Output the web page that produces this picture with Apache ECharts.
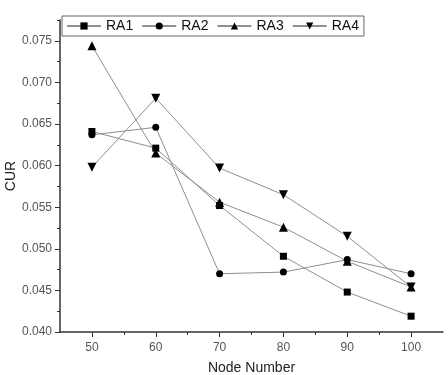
<!DOCTYPE html>
<html>
<head>
<meta charset="utf-8">
<script src="https://cdn.jsdelivr.net/npm/echarts@6/dist/echarts.min.js"></script>
<style>
  html, body { margin: 0; padding: 0; background: #fff; }
  #chart { width: 448px; height: 375px; }
</style>
</head>
<body>
<div id="chart"></div>
<script>
const nodes = [50, 60, 70, 80, 90, 100];
const ra1 = [0.0641, 0.0621, 0.0552, 0.0491, 0.0448, 0.0419];
const ra2 = [0.0637, 0.0646, 0.0470, 0.0472, 0.0487, 0.0470];
const ra3 = [0.0744, 0.0615, 0.0556, 0.0526, 0.0485, 0.0454];
const ra4 = [0.0598, 0.0681, 0.0597, 0.0565, 0.0515, 0.0454];
const xLabels = [50, 60, 70, 80, 90, 100];
const xMinor = [55, 65, 75, 85, 95];
const yLabels = [0.040, 0.045, 0.050, 0.055, 0.060, 0.065, 0.070, 0.075];
const yMinor = [0.0425, 0.0475, 0.0525, 0.0575, 0.0625, 0.0675, 0.0725, 0.0775];

const pair = arr => nodes.map((n, i) => [n, arr[i]]);
const font = "'Liberation Sans', Arial, sans-serif";

function makeSeries(name, data, symbol, size, rotate) {
  return {
    name,
    type: "line",
    data: pair(data),
    symbol,
    symbolSize: size,
    symbolRotate: rotate || 0,
    showAllSymbol: true,
    animation: false,
    lineStyle: { width: 1, color: "#8f8f8f" },
    itemStyle: { color: "#000" }
  };
}

const myChart = echarts.init(document.getElementById("chart"));
myChart.setOption({
  backgroundColor: "#fff",
  grid: { left: 60, right: 5, top: 20, bottom: 43, containLabel: false, outerBoundsMode: "none" },
  legend: {
    left: 62,
    top: 16,
    padding: [3, 5, 3, 4],
    itemGap: 8,
    itemWidth: 34,
    itemHeight: 9,
    borderColor: "#666",
    borderWidth: 1,
    backgroundColor: "#fff",
    textStyle: { fontFamily: font, fontSize: 14, color: "#111", padding: [0, 0, 0, 0] },
    data: ["RA1", "RA2", "RA3", "RA4"]
  },
  xAxis: [
    {
      type: "value",
      min: 45,
      max: 105,
      interval: 5,
      name: "Node Number",
      nameLocation: "middle",
      nameGap: 29,
      nameMoveOverlap: false,
      nameTextStyle: { fontFamily: font, fontSize: 14, color: "#222" },
      axisLine: { lineStyle: { color: "#333", width: 1.5 } },
      axisTick: { customValues: xLabels, length: 5, lineStyle: { color: "#333" } },
      axisLabel: {
        customValues: xLabels,
        fontFamily: font,
        fontSize: 12,
        color: "#555",
        margin: 10
      },
      splitLine: { show: false }
    },
    {
      type: "value",
      min: 45,
      max: 105,
      interval: 5,
      position: "bottom",
      axisLine: { show: false },
      axisTick: { customValues: xMinor, length: 3, lineStyle: { color: "#333" } },
      axisLabel: { show: false },
      splitLine: { show: false }
    }
  ],
  yAxis: [
    {
      type: "value",
      min: 0.04,
      max: 0.0775,
      interval: 0.005,
      name: "CUR",
      nameLocation: "middle",
      nameGap: 42,
      nameMoveOverlap: false,
      nameRotate: 90,
      nameTextStyle: { fontFamily: font, fontSize: 14, color: "#222" },
      axisLine: { show: true, lineStyle: { color: "#333", width: 1.5 } },
      axisTick: { show: true, customValues: yLabels, length: 5, lineStyle: { color: "#333" } },
      axisLabel: {
        customValues: yLabels,
        formatter: v => v.toFixed(3),
        fontFamily: font,
        fontSize: 12,
        color: "#555",
        margin: 8
      },
      splitLine: { show: false }
    },
    {
      type: "value",
      min: 0.04,
      max: 0.0775,
      interval: 0.005,
      position: "left",
      offset: 0,
      axisLine: { show: false },
      axisTick: { show: true, customValues: yMinor, length: 3, lineStyle: { color: "#333" } },
      axisLabel: { show: false },
      splitLine: { show: false }
    }
  ],
  series: [
    makeSeries("RA1", ra1, "rect", 7),
    makeSeries("RA2", ra2, "circle", 7),
    makeSeries("RA3", ra3, "triangle", 9),
    makeSeries("RA4", ra4, "triangle", 9, 180)
  ]
});
</script>
</body>
</html>
